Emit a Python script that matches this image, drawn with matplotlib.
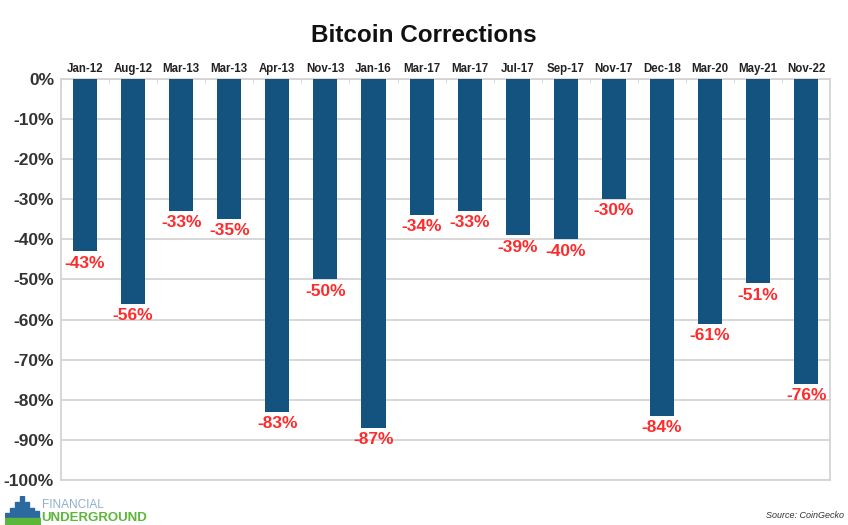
import matplotlib.pyplot as plt
import matplotlib.patches as patches
import numpy as np

plt.rcParams['font.family'] = ['Liberation Sans', 'DejaVu Sans']

periods = ["Jan-12", "Aug-12", "Mar-13", "Mar-13", "Apr-13", "Nov-13", "Jan-16", "Mar-17",
           "Mar-17", "Jul-17", "Sep-17", "Nov-17", "Dec-18", "Mar-20", "May-21", "Nov-22"]
drawdowns = [-43, -56, -33, -35, -83, -50, -87, -34, -33, -39, -40, -30, -84, -61, -51, -76]
yticks = list(range(0, -101, -10))

bar_color = "#14537f"
label_color = "#ff2b2b"
grid_color = "#d4d4d4"

fig = plt.figure(figsize=(8.48, 5.25), dpi=100)
ax = fig.add_axes([0.072, 0.0857, 0.907, 0.764])

x = np.arange(len(periods))
ax.bar(x, drawdowns, width=0.5, color=bar_color, zorder=3)

for xi, v in zip(x, drawdowns):
    ax.annotate(f"{v}%", (xi, v), xytext=(0, -3), textcoords="offset points",
                ha="center", va="top", color=label_color, fontsize=12.5,
                fontweight="bold", zorder=4)

ax.set_xlim(-0.5, len(periods) - 0.5)
ax.set_ylim(-100, 0)
ax.set_yticks(yticks)
ax.set_yticklabels([f"{t}%" for t in yticks], fontsize=12.5, fontweight="bold", color="#333333")
ax.yaxis.grid(True, color=grid_color, linewidth=1.3, zorder=0)
ax.tick_params(axis="y", length=0, pad=5)

# category labels on top
ax.xaxis.tick_top()
ax.set_xticks(x)
ax.set_xticklabels(periods, fontsize=8.3, fontweight="bold", color="#222222")
ax.tick_params(axis="x", length=0, pad=3)
ax.set_xticks(np.arange(len(periods) + 1) - 0.5, minor=True)
ax.tick_params(axis="x", which="minor", length=3, color=grid_color, direction="in", top=True, bottom=False)

for s in ax.spines.values():
    s.set_color(grid_color)
    s.set_linewidth(1.3)

fig.text(0.5, 0.933, "Bitcoin Corrections", ha="center", va="center",
         fontsize=17.5, fontweight="bold", color="#111111")

# logo, bottom-left
logo = fig.add_axes([0.006, 0.0, 0.042, 0.055])
logo.axis("off")
logo.set_xlim(0, 10)
logo.set_ylim(0, 10)
for i, h in enumerate([4, 6, 8, 10, 8, 6, 5]):
    logo.add_patch(patches.Rectangle((i * 1.4, 0), 1.0, h, color="#2b6aa0"))
logo.add_patch(patches.Rectangle((0, 0), 10, 2.5, color="#5cb63a"))
fig.text(0.049, 0.038, "FINANCIAL", fontsize=8.5, color="#8fb0cf", ha="left", va="center")
fig.text(0.049, 0.013, "UNDERGROUND", fontsize=9.5, fontweight="bold", color="#5cb63a",
         ha="left", va="center")

fig.text(0.995, 0.018, "Source: CoinGecko", fontsize=6.5, style="italic", color="#333333",
         ha="right", va="center")

fig.savefig("out.png", dpi=100)
